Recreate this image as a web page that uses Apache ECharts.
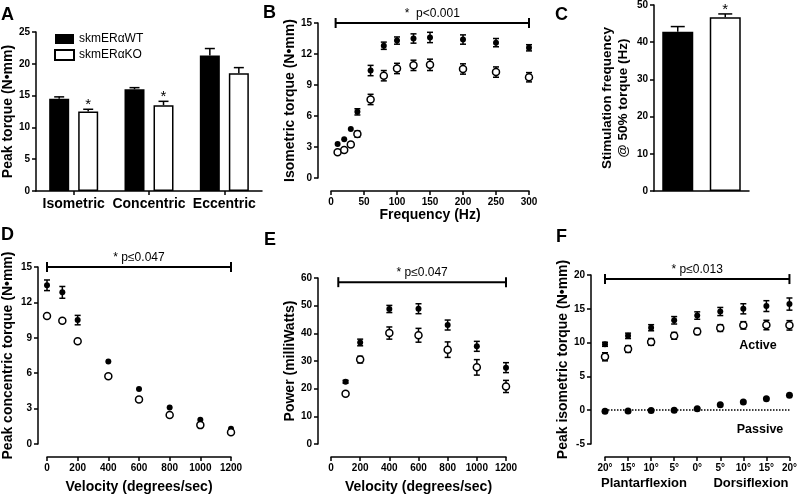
<!DOCTYPE html>
<html><head><meta charset="utf-8">
<script src="https://cdn.jsdelivr.net/npm/echarts@6/dist/echarts.min.js"></script>
<style>html,body{margin:0;padding:0;background:#fff}#c{width:800px;height:497px}</style>
</head><body><div id="c"></div>
<script>
// ---- Panel A: peak torque bars ----
const barCats = ['Isometric', 'Concentric', 'Eccentric'];
const barWT = [14.5, 16.0, 21.3];
const barWTErr = [0.3, 0.25, 1.1];
const barKO = [12.5, 13.5, 18.5];
const barKOErr = [0.35, 0.6, 0.9];
const barKOSig = ['*', '*', ''];
const seriesNames = ['skmERαWT', 'skmERαKO'];

// ---- Panel B: force-frequency ----
const freqHz = [10, 20, 30, 40, 60, 80, 100, 125, 150, 200, 250, 300];
const freqWT = [3.3, 3.75, 4.75, 6.4, 10.4, 12.8, 13.3, 13.5, 13.6, 13.4, 13.1, 12.6];
const freqWTErr = [0, 0, 0, 0.3, 0.5, 0.35, 0.35, 0.45, 0.5, 0.45, 0.4, 0.3];
const freqKO = [2.5, 2.7, 3.25, 4.25, 7.6, 9.9, 10.6, 10.9, 10.95, 10.55, 10.25, 9.75];
const freqKOErr = [0, 0, 0.2, 0.3, 0.5, 0.5, 0.5, 0.5, 0.55, 0.5, 0.5, 0.45];

// ---- Panel C: stimulation frequency @50% torque ----
const stimFreq = [42.8, 46.7];
const stimErr = [1.4, 0.9];
const stimSig = ['', '*'];

// ---- Panel D: concentric torque vs velocity ----
const velD = [0, 100, 200, 400, 600, 800, 1000, 1200];
const concWT = [13.45, 12.85, 10.5, 7.0, 4.67, 3.1, 2.05, 1.3];
const concWTErr = [0.45, 0.5, 0.4, 0, 0, 0, 0, 0];
const concKO = [10.85, 10.45, 8.7, 5.75, 3.77, 2.45, 1.6, 1.0];
const concKOErr = [0, 0, 0, 0, 0, 0, 0, 0];

// ---- Panel E: power vs velocity ----
const velE = [100, 200, 400, 600, 800, 1000, 1200];
const powWT = [22.5, 36.7, 48.8, 48.9, 43.0, 35.3, 27.6];
const powWTErr = [0.5, 1.2, 1.3, 1.8, 1.8, 1.8, 1.8];
const powKO = [18.2, 30.5, 40.1, 39.3, 34.1, 27.7, 20.8];
const powKOErr = [0.5, 1.2, 2.2, 2.5, 2.8, 2.8, 2.2];

// ---- Panel F: torque-angle ----
const angleLabels = ['20°', '15°', '10°', '5°', '0°', '5°', '10°', '15°', '20°'];
const angleIdx = [0, 1, 2, 3, 4, 5, 6, 7, 8];
const activeWT = [9.75, 11.0, 12.2, 13.3, 14.0, 14.6, 15.0, 15.4, 15.7];
const activeWTErr = [0.3, 0.4, 0.45, 0.55, 0.55, 0.6, 0.75, 0.8, 0.9];
const activeKO = [7.9, 9.05, 10.1, 11.0, 11.65, 12.15, 12.55, 12.6, 12.55];
const activeKOErr = [0.6, 0.5, 0.5, 0.5, 0.45, 0.5, 0.55, 0.7, 0.7];
const passiveTorque = [-0.15, -0.1, -0.05, 0, 0.2, 0.8, 1.2, 1.7, 2.2];

// significance brackets: [x0, x1, y]
const sigB = [7, 300, 15];
const sigD = [0, 1200, 15];
const sigE = [50, 1200, 58.5];
const sigF = [0, 8, 19.4];
const sigTexts = ['*  p<0.001', '* p≤0.047', '* p≤0.047', '* p≤0.013'];

const FONT = '"Liberation Sans", Arial, Helvetica, sans-serif';
const BLACK = '#000';

function axisBase() {
  return {
    axisLine: { show: true, onZero: false, lineStyle: { color: BLACK, width: 1.5 } },
    axisTick: { show: true, length: 4, lineStyle: { color: BLACK, width: 1.5 } },
    axisLabel: { color: BLACK, fontWeight: 'bold', fontSize: 10, fontFamily: FONT, margin: 6, hideOverlap: false, formatter: v => String(v) },
    splitLine: { show: false },
    nameTextStyle: { color: BLACK, fontWeight: 'bold', fontSize: 14, fontFamily: FONT },
    nameLocation: 'middle'
  };
}
function valAxis(gi, min, max, interval, name, gap, offset, extra) {
  return Object.assign(axisBase(), { type: 'value', gridIndex: gi, min, max, interval, name, nameGap: gap, offset: offset || 0 }, extra || {});
}

function errSeries(gi, xs, ys, es, opt) {
  opt = opt || {};
  return {
    type: 'custom', xAxisIndex: gi, yAxisIndex: gi, z: 3, silent: true, clip: false,
    data: xs.map((x, i) => [x, ys[i], es[i]]),
    renderItem(params, api) {
      const x = api.value(0), y = api.value(1), e = api.value(2), s = opt.sig ? opt.sig[params.dataIndex] : '';
      const dx = opt.dx || 0, cap = opt.cap || 3;
      const children = [];
      const top = api.coord([x, y + e]);
      const bot = api.coord([x, opt.upOnly ? y : y - e]);
      const cx = top[0] + dx;
      const ls = { stroke: BLACK, lineWidth: 1.5 };
      if (e > 0) {
        children.push({ type: 'line', shape: { x1: cx, y1: top[1], x2: cx, y2: bot[1] }, style: ls });
        children.push({ type: 'line', shape: { x1: cx - cap, y1: top[1], x2: cx + cap, y2: top[1] }, style: ls });
        if (!opt.upOnly) children.push({ type: 'line', shape: { x1: cx - cap, y1: bot[1], x2: cx + cap, y2: bot[1] }, style: ls });
      }
      if (s) {
        children.push({ type: 'text', style: { text: s, x: cx, y: top[1] + 3, textAlign: 'center', textVerticalAlign: 'bottom', font: '15px ' + FONT, fill: BLACK } });
      }
      return { type: 'group', children };
    }
  };
}

function sigSeries(gi, sig, text) {
  return {
    type: 'custom', xAxisIndex: gi, yAxisIndex: gi, z: 5, silent: true, clip: false,
    data: [sig],
    renderItem(params, api) {
      const a = api.coord([api.value(0), api.value(2)]);
      const b = api.coord([api.value(1), api.value(2)]);
      const ls = { stroke: BLACK, lineWidth: 2 };
      return { type: 'group', children: [
        { type: 'line', shape: { x1: a[0], y1: a[1], x2: b[0], y2: b[1] }, style: ls },
        { type: 'line', shape: { x1: a[0], y1: a[1] - 5, x2: a[0], y2: a[1] + 5 }, style: ls },
        { type: 'line', shape: { x1: b[0], y1: b[1] - 5, x2: b[0], y2: b[1] + 5 }, style: ls },
        { type: 'text', style: { text, x: (a[0] + b[0]) / 2, y: a[1] - 3, textAlign: 'center', textVerticalAlign: 'bottom', font: '12px ' + FONT, fill: BLACK } }
      ] };
    }
  };
}

function scatterWT(gi, xs, ys, size) {
  return { type: 'scatter', xAxisIndex: gi, yAxisIndex: gi, z: 4, symbol: 'circle', symbolSize: size || 6,
    itemStyle: { color: BLACK, opacity: 1 }, data: xs.map((x, i) => [x, ys[i]]) };
}
function scatterKO(gi, xs, ys) {
  return { type: 'scatter', xAxisIndex: gi, yAxisIndex: gi, z: 4, symbol: 'circle', symbolSize: 7,
    itemStyle: { color: '#fff', borderColor: BLACK, borderWidth: 1.5, opacity: 1 }, data: xs.map((x, i) => [x, ys[i]]) };
}

const grids = [
  { left: 33, top: 32, width: 229, height: 159 },   // A
  { left: 331, top: 23, width: 198, height: 155 },  // B
  { left: 654, top: 4, width: 95, height: 187 },    // C
  { left: 45, top: 267, width: 186, height: 177 },  // D
  { left: 331, top: 278, width: 175, height: 166 }, // E
  { left: 605, top: 275, width: 187, height: 169 }  // F
];

const xAxes = [
  Object.assign(axisBase(), { type: 'category', gridIndex: 0, data: barCats,
    axisTick: { show: true, alignWithLabel: true, length: 4, lineStyle: { color: BLACK, width: 1.5 } },
    axisLabel: { color: BLACK, fontWeight: 'bold', fontSize: 14, fontFamily: FONT, margin: 6, interval: 0, hideOverlap: false } }),
  valAxis(1, 0, 300, 50, 'Frequency (Hz)', 17, 13),
  Object.assign(axisBase(), { type: 'category', gridIndex: 2, data: seriesNames, axisTick: { show: false }, axisLabel: { show: false } }),
  valAxis(3, 0, 1200, 200, 'Velocity (degrees/sec)', 23, 13),
  valAxis(4, 0, 1200, 200, 'Velocity (degrees/sec)', 23, 13),
  valAxis(5, 0, 8, 1, '', 0, 13, { axisLabel: { color: BLACK, fontWeight: 'bold', fontSize: 10, fontFamily: FONT, margin: 6, hideOverlap: false, formatter: v => angleLabels[v] } })
];
const yAxes = [
  valAxis(0, 0, 25, 5, 'Peak torque (N•mm)', 20, 0),
  valAxis(1, 0, 15, 3, 'Isometric torque (N•mm)', 16, 13),
  valAxis(2, 0, 50, 10, 'Stimulation frequency\n@ 50% torque (Hz)', 23, 0, { nameTextStyle: { color: BLACK, fontWeight: 'bold', fontSize: 13.5, fontFamily: FONT, lineHeight: 16 } }),
  valAxis(3, 0, 15, 3, 'Peak concentric torque (N•mm)', 23, 9),
  valAxis(4, 0, 60, 10, 'Power (milliWatts)', 21, 13),
  valAxis(5, -5, 20, 5, 'Peak isometric torque (N•mm)', 19, 14)
];

const series = [
  // A
  { type: 'bar', name: seriesNames[0], xAxisIndex: 0, yAxisIndex: 0, barWidth: 20, barGap: '45%', z: 2,
    itemStyle: { color: BLACK }, data: barWT },
  { type: 'bar', name: seriesNames[1], xAxisIndex: 0, yAxisIndex: 0, barWidth: 20, barGap: '45%', z: 2,
    itemStyle: { color: '#fff', borderColor: BLACK, borderWidth: 1.5 }, data: barKO },
  errSeries(0, [0, 1, 2], barWT, barWTErr, { dx: -14.5, upOnly: true, cap: 5 }),
  errSeries(0, [0, 1, 2], barKO, barKOErr, { dx: 14.5, upOnly: true, cap: 5, sig: barKOSig }),
  // B
  errSeries(1, freqHz, freqWT, freqWTErr),
  errSeries(1, freqHz, freqKO, freqKOErr),
  scatterWT(1, freqHz, freqWT),
  scatterKO(1, freqHz, freqKO),
  sigSeries(1, sigB, sigTexts[0]),
  // C
  { type: 'bar', xAxisIndex: 2, yAxisIndex: 2, barWidth: 31, z: 2,
    data: stimFreq.map((v, i) => ({ value: v, itemStyle: i === 0 ? { color: BLACK } : { color: '#fff', borderColor: BLACK, borderWidth: 1.5 } })) },
  errSeries(2, [0, 1], stimFreq, stimErr, { upOnly: true, cap: 7, sig: stimSig }),
  // D
  errSeries(3, velD, concWT, concWTErr),
  errSeries(3, velD, concKO, concKOErr),
  scatterWT(3, velD, concWT),
  scatterKO(3, velD, concKO),
  sigSeries(3, sigD, sigTexts[1]),
  // E
  errSeries(4, velE, powWT, powWTErr),
  errSeries(4, velE, powKO, powKOErr),
  scatterWT(4, velE, powWT),
  scatterKO(4, velE, powKO),
  sigSeries(4, sigE, sigTexts[2]),
  // F
  errSeries(5, angleIdx, activeWT, activeWTErr),
  errSeries(5, angleIdx, activeKO, activeKOErr),
  scatterWT(5, angleIdx, activeWT),
  scatterKO(5, angleIdx, activeKO),
  Object.assign(scatterWT(5, angleIdx, passiveTorque, 7), {
    markLine: { silent: true, symbol: 'none', label: { show: false },
      lineStyle: { color: BLACK, type: 'dotted', width: 1.5 }, data: [{ yAxis: 0 }] }
  }),
  sigSeries(5, sigF, sigTexts[3])
];

function txt(text, x, y, size, align, weight) {
  return { type: 'text', silent: true, style: { text, x, y, font: (weight || 'bold') + ' ' + size + 'px ' + FONT, fill: BLACK, textAlign: align || 'left', textVerticalAlign: 'middle' } };
}

const option = {
  animation: false,
  backgroundColor: '#fff',
  textStyle: { fontFamily: FONT },
  grid: grids,
  xAxis: xAxes,
  yAxis: yAxes,
  series,
  legend: {
    data: seriesNames, left: 49, top: 28, orient: 'vertical', itemWidth: 19, itemHeight: 10, itemGap: 4,
    selectedMode: false, icon: 'rect',
    textStyle: { color: BLACK, fontSize: 12, fontFamily: FONT }
  },
  graphic: [
    txt('A', 1, 15, 18), txt('B', 263, 13, 18), txt('C', 555, 15, 18),
    txt('D', 1, 235, 18), txt('E', 264, 240, 18), txt('F', 556, 237, 18),
    txt('Active', 758, 346, 12.5, 'center'), txt('Passive', 760, 430, 12.5, 'center'),
    txt('Plantarflexion', 644, 483, 13, 'center'), txt('Dorsiflexion', 751, 483, 13, 'center')
  ]
};
echarts.init(document.getElementById('c'), null, { renderer: 'canvas' }).setOption(option);
</script></body></html>
